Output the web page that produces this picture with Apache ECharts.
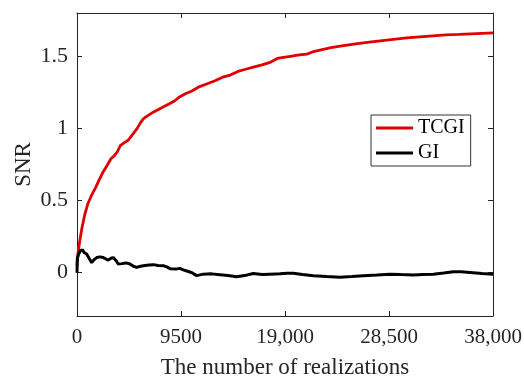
<!DOCTYPE html>
<html>
<head>
<meta charset="utf-8">
<script src="https://cdn.jsdelivr.net/npm/echarts@6/dist/echarts.min.js"></script>
<style>
html,body{margin:0;padding:0;background:#fff;}
#c{width:524px;height:377px;}
</style>
</head>
<body>
<div id="c"></div>
<script>
var xTicks = [0, 9500, 19000, 28500, 38000];
var xTickLabels = ['0', '9500', '19,000', '28,500', '38,000'];
var yTicks = [0, 0.5, 1, 1.5];
var yTickLabels = ['0', '0.5', '1', '1.5'];

var tcgiX = [0, 100, 250, 450, 700, 1000, 1350, 1700, 2000, 2400, 2800, 3100, 3400, 3700, 3950, 4300, 4700, 5100, 5500, 5800, 6100, 6500, 6900, 7400, 7900, 8400, 8900, 9400, 9900, 10500, 11200, 11900, 12600, 13300, 14000, 14700, 15400, 16100, 16900, 17700, 18300, 18700, 19500, 20300, 21000, 21500, 22300, 23200, 24200, 25300, 26500, 27700, 28900, 30100, 31300, 32500, 33700, 34900, 36000, 37000, 38000];
var tcgiY = [0.05, 0.14, 0.22, 0.31, 0.40, 0.48, 0.54, 0.59, 0.64, 0.70, 0.75, 0.79, 0.81, 0.84, 0.88, 0.90, 0.92, 0.96, 1.00, 1.04, 1.07, 1.09, 1.11, 1.13, 1.15, 1.17, 1.19, 1.22, 1.24, 1.26, 1.29, 1.31, 1.33, 1.355, 1.37, 1.395, 1.41, 1.425, 1.44, 1.46, 1.485, 1.49, 1.50, 1.51, 1.515, 1.53, 1.545, 1.56, 1.572, 1.585, 1.597, 1.607, 1.617, 1.627, 1.635, 1.642, 1.648, 1.652, 1.656, 1.659, 1.662];

var giX = [0, 30, 150, 300, 500, 650, 880, 1100, 1340, 1550, 1800, 2100, 2400, 2650, 2860, 3100, 3320, 3550, 3780, 4100, 4500, 4840, 5150, 5450, 5800, 6200, 6600, 6970, 7400, 7880, 8200, 8500, 9000, 9400, 9710, 10100, 10500, 10930, 11540, 12300, 13060, 13800, 14590, 15300, 16100, 16900, 17630, 18540, 19200, 19760, 20600, 21590, 22800, 24020, 25100, 26150, 27400, 28590, 29600, 30720, 31600, 32550, 33500, 34380, 35100, 35900, 37000, 38000];
var giY = [0, 0.10, 0.13, 0.15, 0.16, 0.14, 0.13, 0.10, 0.07, 0.09, 0.105, 0.11, 0.105, 0.095, 0.088, 0.10, 0.105, 0.085, 0.06, 0.063, 0.068, 0.06, 0.045, 0.037, 0.045, 0.05, 0.054, 0.056, 0.05, 0.049, 0.04, 0.028, 0.025, 0.03, 0.02, 0.01, 0.0, -0.02, -0.01, -0.008, -0.014, -0.02, -0.028, -0.02, -0.005, -0.012, -0.01, -0.008, -0.004, -0.003, -0.012, -0.021, -0.027, -0.032, -0.027, -0.021, -0.016, -0.01, -0.013, -0.016, -0.012, -0.01, -0.002, 0.007, 0.006, 0.002, -0.006, -0.01];

function pairs(xs, ys) { return xs.map(function (x, i) { return [x, ys[i]]; }); }

var FONT = 'Liberation Serif';
var AX = '#262626';

var chart = echarts.init(document.getElementById('c'), null, {renderer: 'canvas'});
chart.setOption({
  backgroundColor: '#fff',
  animation: false,
  textStyle: {fontFamily: FONT},
  grid: {left: 77, right: 31, top: 13, bottom: 61, containLabel: false, outerBoundsMode: 'none'},
  legend: {
    data: ['TCGI', 'GI'],
    orient: 'vertical',
    left: 371, top: 115,
    backgroundColor: '#fff',
    borderColor: '#333', borderWidth: 1,
    padding: [3, 6, 3, 5],
    icon: 'rect',
    itemWidth: 37, itemHeight: 3, itemGap: 5,
    textStyle: {fontFamily: FONT, fontSize: 20, color: '#000', lineHeight: 20}
  },
  xAxis: [{
    type: 'value', min: 0, max: 38000, interval: 9500,
    name: 'The number of realizations', nameLocation: 'middle', nameGap: 40,
    nameTextStyle: {fontFamily: FONT, fontSize: 23, color: '#262626'},
    axisLine: {show: true, onZero: false, lineStyle: {color: AX, width: 1}},
    axisTick: {show: true, inside: true, length: 5, lineStyle: {color: AX}},
    axisLabel: {fontFamily: FONT, fontSize: 21, color: '#262626', margin: 11,
      formatter: function (v) { var i = xTicks.indexOf(v); return i >= 0 ? xTickLabels[i] : ''; }},
    splitLine: {show: false}
  }, {
    type: 'value', position: 'top', min: 0, max: 38000, interval: 9500,
    axisLine: {show: true, onZero: false, lineStyle: {color: AX, width: 1}},
    axisTick: {show: true, inside: true, length: 5, lineStyle: {color: AX}},
    axisLabel: {show: false}, splitLine: {show: false}
  }],
  yAxis: [{
    type: 'value', min: -0.3, max: 1.8,
    name: 'SNR', nameLocation: 'middle', nameGap: 42, nameMoveOverlap: false,
    nameTextStyle: {fontFamily: FONT, fontSize: 23, color: '#262626'},
    axisLine: {show: true, onZero: false, lineStyle: {color: AX, width: 1}},
    axisTick: {show: true, inside: true, length: 5, lineStyle: {color: AX}, customValues: yTicks},
    axisLabel: {fontFamily: FONT, fontSize: 22, color: '#262626', margin: 9, customValues: yTicks,
      formatter: function (v) { var i = yTicks.indexOf(v); return i >= 0 ? yTickLabels[i] : ''; }},
    splitLine: {show: false}
  }, {
    type: 'value', position: 'right', min: -0.3, max: 1.8,
    axisLine: {show: true, onZero: false, lineStyle: {color: AX, width: 1}},
    axisTick: {show: true, inside: true, length: 5, lineStyle: {color: AX}, customValues: yTicks},
    axisLabel: {show: false}, splitLine: {show: false}
  }],
  series: [{
    name: 'TCGI', type: 'line', xAxisIndex: 0, yAxisIndex: 0,
    data: pairs(tcgiX, tcgiY), symbol: 'none', showSymbol: false,
    lineStyle: {color: '#e00000', width: 2.8}, itemStyle: {color: '#e00000'}
  }, {
    name: 'GI', type: 'line', xAxisIndex: 0, yAxisIndex: 0,
    data: pairs(giX, giY), symbol: 'none', showSymbol: false,
    lineStyle: {color: '#000', width: 3}, itemStyle: {color: '#000'}
  }]
});
</script>
</body>
</html>
